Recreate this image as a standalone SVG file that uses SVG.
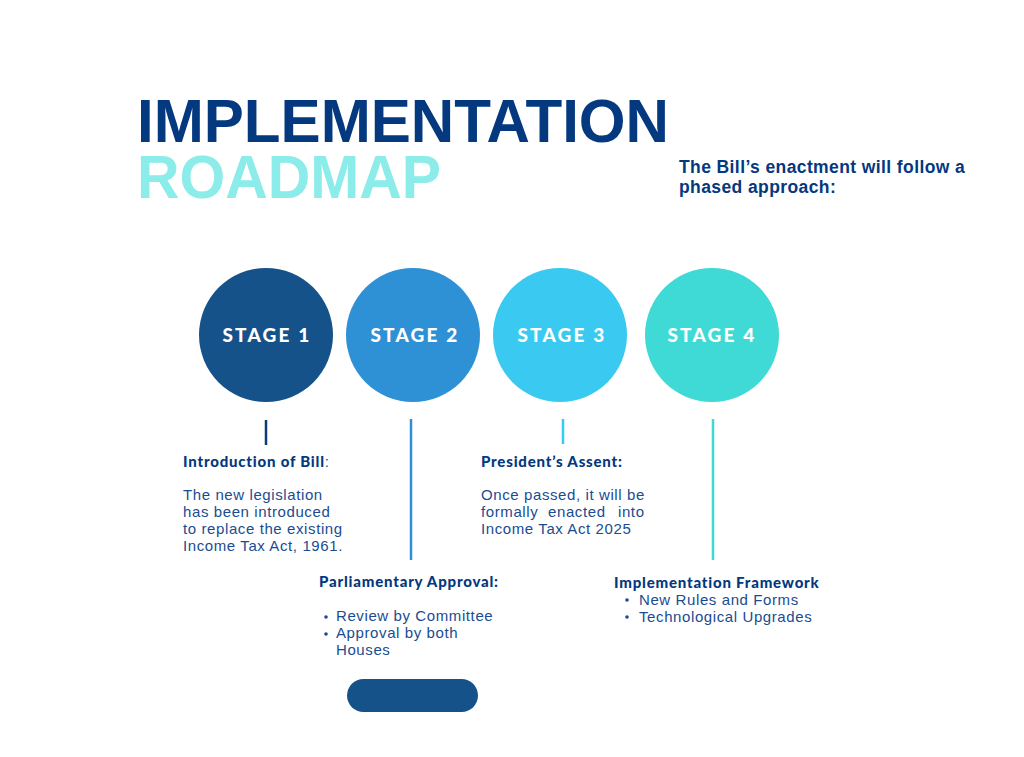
<svg xmlns="http://www.w3.org/2000/svg" width="1024" height="757" viewBox="0 0 1024 757">
<style>
.title{font-family:"Liberation Sans",Arial,sans-serif;font-weight:700;font-size:62px}
.sub{font-family:"Liberation Sans",Arial,sans-serif;font-weight:700;font-size:17.5px;fill:#04387f;letter-spacing:0.4px}
.stage{font-family:"Lato","Liberation Sans",sans-serif;font-weight:900;font-size:19px;fill:#ffffff;letter-spacing:2.2px}
.hd{font-family:"Lato","Liberation Sans",sans-serif;font-weight:900;font-size:15px;fill:#04387f;letter-spacing:0.8px}
.bd{font-family:"Liberation Sans",Arial,sans-serif;font-size:15px;fill:#1a4c92;letter-spacing:0.6px}
</style>
<rect width="1024" height="757" fill="#ffffff"/>
<g id="title">
<text class="title" x="137" y="142" fill="#04387f" textLength="532" lengthAdjust="spacingAndGlyphs">IMPLEMENTATION</text>
<text class="title" x="137" y="198" fill="#8becea" textLength="304" lengthAdjust="spacingAndGlyphs">ROADMAP</text>
</g>
<g id="subtitle">
<text class="sub" x="679" y="173">The Bill’s enactment will follow a</text>
<text class="sub" x="679" y="193">phased approach:</text>
</g>
<g id="connectors" stroke-width="2.5" fill="none">
<line x1="266" y1="420" x2="266" y2="445" stroke="#0d3b7a"/>
<line x1="411" y1="419" x2="411" y2="560" stroke="#2f8fd6"/>
<line x1="563" y1="419" x2="563" y2="444" stroke="#38c9f0"/>
<line x1="713" y1="419" x2="713" y2="560" stroke="#3fd9d5"/>
</g>
<g id="stage1">
<circle cx="266" cy="335" r="67" fill="#155289"/>
<text class="stage" x="267" y="342" text-anchor="middle">STAGE 1</text>
</g>
<g id="stage2">
<circle cx="413" cy="335" r="67" fill="#2f91d5"/>
<text class="stage" x="415" y="342" text-anchor="middle">STAGE 2</text>
</g>
<g id="stage3">
<circle cx="560" cy="335" r="67" fill="#3ac9f0"/>
<text class="stage" x="562" y="342" text-anchor="middle">STAGE 3</text>
</g>
<g id="stage4">
<circle cx="712" cy="335" r="67" fill="#40dad6"/>
<text class="stage" x="712" y="342" text-anchor="middle">STAGE 4</text>
</g>
<g id="intro">
<text x="183" y="467"><tspan class="hd">Introduction of Bill</tspan><tspan class="bd">:</tspan></text>
<text class="bd" x="183" y="500">The new legislation</text>
<text class="bd" x="183" y="517">has been introduced</text>
<text class="bd" x="183" y="534">to replace the existing</text>
<text class="bd" x="183" y="551">Income Tax Act, 1961.</text>
</g>
<g id="parliament">
<text class="hd" x="319" y="587">Parliamentary Approval:</text>
<circle cx="326" cy="617" r="1.8" fill="#1a4c92"/>
<text class="bd" x="336" y="621">Review by Committee</text>
<circle cx="326" cy="634" r="1.8" fill="#1a4c92"/>
<text class="bd" x="336" y="638">Approval by both</text>
<text class="bd" x="336" y="655">Houses</text>
</g>
<g id="president">
<text class="hd" x="481" y="467">President’s Assent:</text>
<text class="bd" x="481" y="500">Once passed, it will be</text>
<text class="bd" y="517"><tspan x="481">formally</tspan> <tspan x="548">enacted</tspan> <tspan x="618">into</tspan></text>
<text class="bd" x="481" y="534">Income Tax Act 2025</text>
</g>
<g id="framework">
<text class="hd" x="614" y="588">Implementation Framework</text>
<circle cx="627" cy="600" r="1.8" fill="#1a4c92"/>
<text class="bd" x="639" y="605">New Rules and Forms</text>
<circle cx="627" cy="617" r="1.8" fill="#1a4c92"/>
<text class="bd" x="639" y="622">Technological Upgrades</text>
</g>
<g id="button">
<rect x="347" y="679" width="131" height="33" rx="16.5" fill="#155289"/>
</g>
</svg>
